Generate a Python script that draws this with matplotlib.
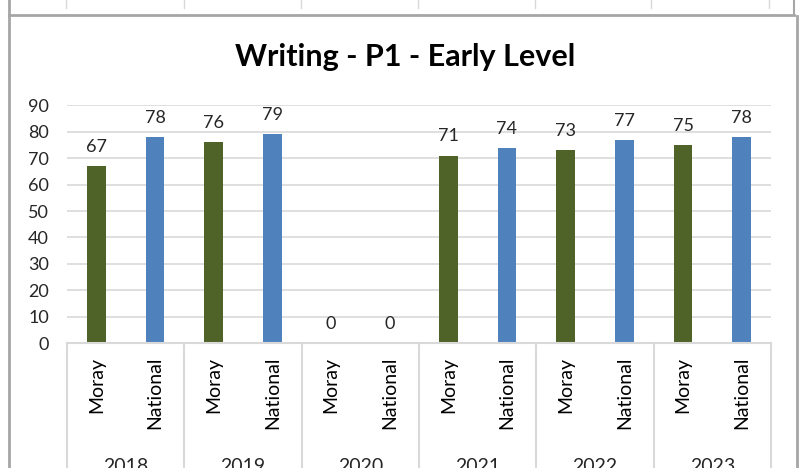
import matplotlib.pyplot as plt
import matplotlib.transforms as transforms
from matplotlib.lines import Line2D
import numpy as np

years = ['2018', '2019', '2020', '2021', '2022', '2023']
series = ['Moray', 'National']
moray = [67, 76, 0, 71, 73, 75]
national = [78, 79, 0, 74, 77, 78]
colors = {'Moray': '#4F6228', 'National': '#4F81BD'}

plt.rcParams['font.family'] = ['Lato', 'DejaVu Sans']

W, H = 800, 468
fig = plt.figure(figsize=(8, 4.68), dpi=100)


def fx(px):
    return px / W


def fy(py):
    return 1 - py / H


# table remnants above the chart and the chart border
border = '#A6A6A6'
fig.add_artist(Line2D([fx(9), fx(794)], [fy(15), fy(15)], color=border, lw=2))
fig.add_artist(Line2D([fx(9), fx(9)], [fy(0), fy(468)], color=border, lw=2))
fig.add_artist(Line2D([fx(794), fx(794)], [fy(0), fy(15)], color=border, lw=1.5))
fig.add_artist(Line2D([fx(797), fx(797)], [fy(16), fy(468)], color=border, lw=2))
for px in [66, 184, 301, 418, 535, 651, 769]:
    fig.add_artist(Line2D([fx(px), fx(px)], [fy(0), fy(8)], color='#D9D9D9', lw=1))

ax = fig.add_axes([fx(67), fy(343), fx(771) - fx(67), fy(105.4) - fy(343)])

n = len(years) * 2
labels = []
values = []
cols = []
for i, y in enumerate(years):
    labels += series
    values += [moray[i], national[i]]
    cols += [colors['Moray'], colors['National']]

x = np.arange(n)
ax.bar(x, values, width=0.32, color=cols, zorder=3)
for xi, v in zip(x, values):
    ax.annotate(str(v), (xi, v), xytext=(0, 8), textcoords='offset points',
                ha='center', va='bottom', fontsize=13, color='#262626')

ax.set_xlim(-0.5, n - 0.5)
ax.set_ylim(0, 90)
ax.set_yticks(range(0, 91, 10))
ax.yaxis.grid(True, color='#D9D9D9', lw=1.2, zorder=0)
ax.tick_params(axis='y', length=0, pad=13, labelsize=13, labelcolor='#262626')
ax.set_xticks([])
for s in ['top', 'right', 'left', 'bottom']:
    ax.spines[s].set_visible(False)

# multi-level category axis
trans = transforms.blended_transform_factory(ax.transData, ax.transAxes)
axis_col = '#D9D9D9'
ax.plot([-0.5, n - 0.5], [0, 0], color=axis_col, lw=1.5, transform=trans, clip_on=False, zorder=4)
for b in range(len(years) + 1):
    xb = b * 2 - 0.5
    ax.plot([xb, xb], [0, -0.6], color=axis_col, lw=1.5, transform=trans, clip_on=False)
for xi, lab in zip(x, labels):
    ax.text(xi, -0.058, lab, rotation=90, ha='center', va='top', fontsize=14,
            transform=trans, color='black')
for i, y in enumerate(years):
    ax.text(i * 2 + 0.5, -0.52, y, ha='center', va='center', fontsize=14,
            transform=trans, color='#262626')

fig.text(fx(405), fy(57), 'Writing - P1 - Early Level', ha='center', va='center',
         fontsize=22, fontweight='bold', color='black')

fig.savefig('out.png', dpi=100)
